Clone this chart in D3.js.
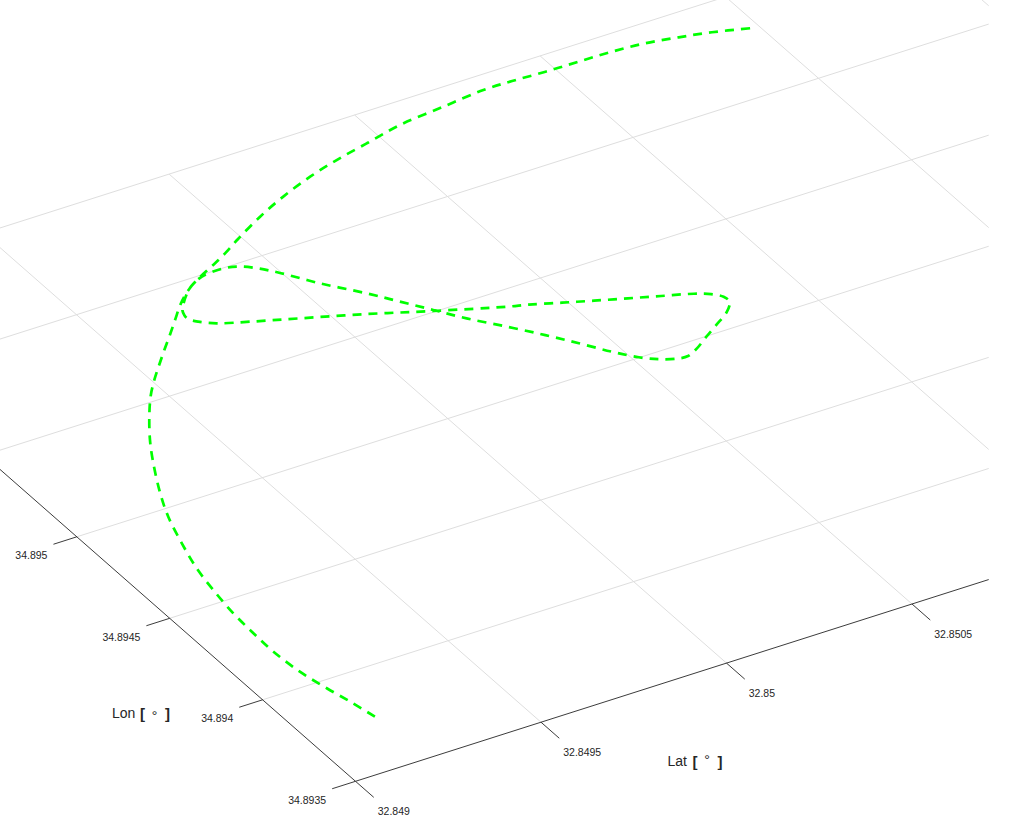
<!DOCTYPE html>
<html>
<head>
<meta charset="utf-8">
<script src="https://cdn.jsdelivr.net/npm/d3@7"></script>
<style>
  html, body { margin: 0; padding: 0; background: #fff; }
  svg { display: block; }
</style>
</head>
<body>
<svg id="chart" width="1025" height="823"></svg>
<script>
// track samples in flight order (deg)
const trackLat = [
  32.849184, 32.849171, 32.849153, 32.849137, 32.849130, 32.849132, 32.849137, 32.849150,
  32.849166, 32.849193, 32.849226, 32.849263, 32.849317, 32.849363, 32.849422, 32.849466,
  32.849507, 32.849550, 32.849594, 32.849639, 32.849683, 32.849727, 32.849756, 32.849779,
  32.849804,
  32.849834, 32.849864, 32.849904, 32.849934, 32.849962, 32.849994, 32.850052, 32.850122,
  32.850169, 32.850216, 32.850263, 32.850324, 32.850381, 32.850429, 32.850475, 32.850516,
  32.850553, 32.850591, 32.850616, 32.850651, 32.850696, 32.850744, 32.850793, 32.850821,
  32.850820, 32.850801, 32.850768, 32.850698, 32.850627, 32.850555, 32.850487, 32.850417,
  32.850369, 32.850214, 32.850075, 32.849934, 32.849827, 32.849758, 32.849725, 32.849711,
  32.849712, 32.849719, 32.849741, 32.849781, 32.849812, 32.849849, 32.849890, 32.849932,
  32.849990, 32.850084, 32.850175, 32.850273, 32.850363, 32.850460, 32.850567, 32.850694,
  32.850811, 32.850888, 32.850975, 32.851063, 32.851152, 32.851236, 32.851316, 32.851393,
  32.851478
];
const trackLon = [
  34.893763, 34.893854, 34.893960, 34.894073, 34.894201, 34.894313, 34.894431, 34.894565,
  34.894686, 34.894820, 34.894959, 34.895076, 34.895221, 34.895331, 34.895452, 34.895532,
  34.895595, 34.895655, 34.895715, 34.895775, 34.895835, 34.895895, 34.895929, 34.895952,
  34.895974,
  34.895992, 34.895998, 34.895996, 34.895981, 34.895950, 34.895901, 34.895792, 34.895680,
  34.895595, 34.895510, 34.895424, 34.895329, 34.895236, 34.895151, 34.895066, 34.895002,
  34.894963, 34.894940, 34.894937, 34.894959, 34.894998, 34.895038, 34.895081, 34.895122,
  34.895153, 34.895183, 34.895209, 34.895246, 34.895283, 34.895321, 34.895358, 34.895397,
  34.895419, 34.895505, 34.895587, 34.895663, 34.895720, 34.895760, 34.895794, 34.895821,
  34.895842, 34.895867, 34.895903, 34.895954, 34.895980, 34.896006, 34.896033, 34.896063,
  34.896109, 34.896178, 34.896235, 34.896286, 34.896323, 34.896355, 34.896390, 34.896410,
  34.896428, 34.896427, 34.896421, 34.896419, 34.896416, 34.896406, 34.896385, 34.896360,
  34.896323
];

const latTicks = [32.849, 32.8495, 32.85, 32.8505];
const latTickLabels = ["32.849", "32.8495", "32.85", "32.8505"];
const lonTicks = [34.8935, 34.894, 34.8945, 34.895];
const lonTickLabels = ["34.8935", "34.894", "34.8945", "34.895"];
const latGrid = [32.849, 32.8495, 32.85, 32.8505, 32.851, 32.8515, 32.852];
const lonGrid = [34.8935, 34.894, 34.8945, 34.895, 34.8955, 34.896, 34.8965];
const latRange = [32.849, 32.8525];
const lonRange = [34.8935, 34.8965];

// oblique view of the lat/lon floor plane
const origin = [355.5, 781.3];
const latX = d3.scaleLinear().domain([32.849, 32.8495]).range([0, 185.5]);
const latY = d3.scaleLinear().domain([32.849, 32.8495]).range([0, -59.1]);
const lonX = d3.scaleLinear().domain([34.8935, 34.894]).range([0, -92.9]);
const lonY = d3.scaleLinear().domain([34.8935, 34.894]).range([0, -81.5]);
const project = (la, lo) => [origin[0] + latX(la) + lonX(lo), origin[1] + latY(la) + lonY(lo)];

const tickLenLat = 0.0000629; // lon ticks point toward -lat
const tickLenLon = 0.0000983; // lat ticks point toward -lon

const svg = d3.select("#chart");
const axisColor = "#262626";

svg.append("defs").append("clipPath").attr("id", "box")
  .append("rect").attr("x", 0).attr("y", 0).attr("width", 988.7).attr("height", 823);

const plot = svg.append("g").attr("clip-path", "url(#box)");
const seg = (p, q) => "M" + p[0] + "," + p[1] + "L" + q[0] + "," + q[1];

// grid
plot.append("g").selectAll("path.lat-grid")
  .data(latGrid.slice(1))
  .join("path")
  .attr("class", "lat-grid")
  .attr("d", (d) => seg(project(d, lonRange[0]), project(d, lonRange[1])))
  .attr("stroke", "#dedede").attr("stroke-width", 1).attr("fill", "none");

plot.append("g").selectAll("path.lon-grid")
  .data(lonGrid.slice(1))
  .join("path")
  .attr("class", "lon-grid")
  .attr("d", (d) => seg(project(latRange[0], d), project(latRange[1], d)))
  .attr("stroke", "#dedede").attr("stroke-width", 1).attr("fill", "none");

// axis lines
plot.append("path")
  .attr("d", seg(project(latRange[0], lonRange[0]), project(latRange[1], lonRange[0])))
  .attr("stroke", axisColor).attr("stroke-width", 0.9).attr("fill", "none");
plot.append("path")
  .attr("d", seg(project(latRange[0], lonRange[0]), project(latRange[0], lonRange[1])))
  .attr("stroke", axisColor).attr("stroke-width", 0.9).attr("fill", "none");

// tick marks
plot.append("g").selectAll("path")
  .data(latTicks)
  .join("path")
  .attr("d", (d) => seg(project(d, lonRange[0]), project(d, lonRange[0] - tickLenLon)))
  .attr("stroke", axisColor).attr("stroke-width", 0.9);
plot.append("g").selectAll("path")
  .data(lonTicks)
  .join("path")
  .attr("d", (d) => seg(project(latRange[0], d), project(latRange[0] - tickLenLat, d)))
  .attr("stroke", axisColor).attr("stroke-width", 0.9);

// trajectory
const track = trackLat.map((la, k) => project(la, trackLon[k]));
plot.append("path")
  .datum(track)
  .attr("fill", "none")
  .attr("stroke", "#00ff00")
  .attr("stroke-width", 2.7)
  .attr("stroke-dasharray", "9,7")
  .attr("d", d3.line().curve(d3.curveCatmullRom.alpha(0.5)));

// tick labels
const tickFont = "'Liberation Sans', Arial, sans-serif";
svg.append("g").selectAll("text")
  .data(latTicks)
  .join("text")
  .attr("x", (d) => project(d, lonRange[0] - tickLenLon)[0] + 4)
  .attr("y", (d) => project(d, lonRange[0] - tickLenLon)[1] + 18)
  .attr("font-family", tickFont).attr("font-size", 10.5).attr("fill", axisColor)
  .text((d, k) => latTickLabels[k]);
svg.append("g").selectAll("text")
  .data(lonTicks)
  .join("text")
  .attr("x", (d) => project(latRange[0] - tickLenLat, d)[0] - 6)
  .attr("y", (d) => project(latRange[0] - tickLenLat, d)[1] + 15)
  .attr("text-anchor", "end")
  .attr("font-family", tickFont).attr("font-size", 10.5).attr("fill", axisColor)
  .text((d, k) => lonTickLabels[k]);

// axis titles
function axisTitle(x, y, name, ringY) {
  const g = svg.append("g").attr("font-family", tickFont).attr("fill", axisColor);
  g.append("text").attr("x", x).attr("y", y).attr("font-size", 14).text(name);
  const w = name === "Lon" ? 28 : 25;
  g.append("text").attr("x", x + w).attr("y", y + 1).attr("font-size", 15).attr("font-weight", "bold").text("[");
  g.append("text").attr("x", x + w + 14.5).attr("y", ringY).attr("font-size", 14)
    .attr("text-anchor", "middle").text("°");
  g.append("text").attr("x", x + w + 25).attr("y", y + 1).attr("font-size", 15).attr("font-weight", "bold").text("]");
}
axisTitle(112, 718, "Lon", 721);
axisTitle(667.5, 766, "Lat", 765);
</script>
</body>
</html>
